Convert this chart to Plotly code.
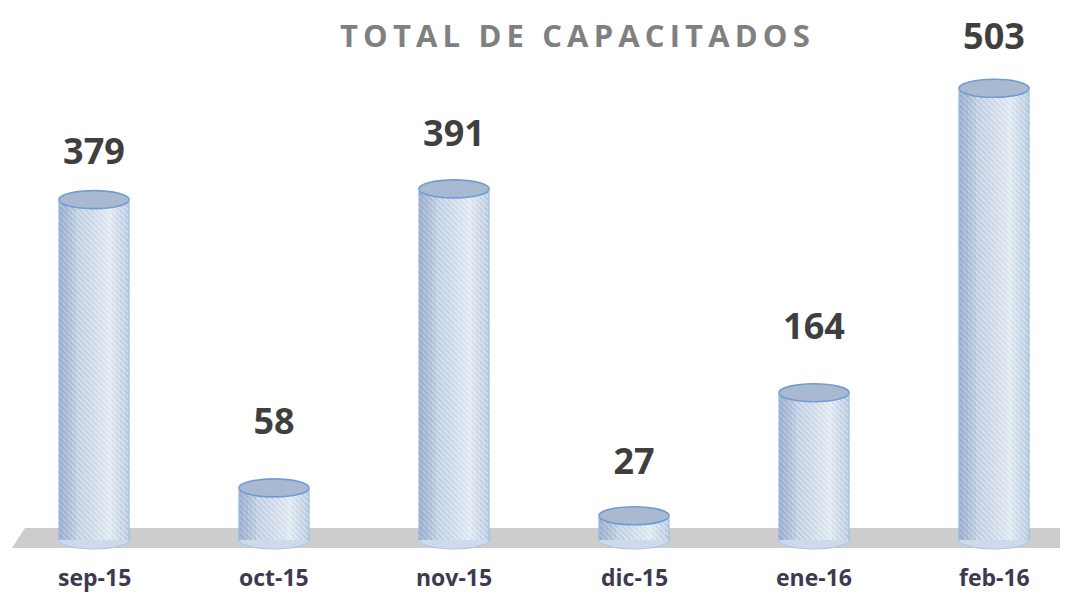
import plotly.graph_objects as go

# ---- data ----
categories = ["sep-15", "oct-15", "nov-15", "dic-15", "ene-16", "feb-16"]
values = [379, 58, 391, 27, 164, 503]
title_text = "TOTAL DE CAPACITADOS"

# ---- style / geometry (screen pixel targets; page body has an 8px margin) ----
PAGE_MARGIN = 8
W, H = 1068 - PAGE_MARGIN, 595 - PAGE_MARGIN
PX_PER_CAT = 180.0
FIRST_CENTER_PX = 94.0 - PAGE_MARGIN
BASE_PX = 540.0 - PAGE_MARGIN       # baseline pixel row
PX_PER_UNIT = 0.898
label_offset_px = [45, 63, 52, 51, 63, 48]   # label gap above cylinder top
CAT_LABEL_PX = 577                  # screen row of category labels
TITLE_PX = 35 - PAGE_MARGIN
TITLE_X_PX = 575 - PAGE_MARGIN
BAR_W = 0.39
CAP_H = 9.0 / PX_PER_UNIT    # half height of ellipse caps in data units
N_STRIPS = 16

x0 = -FIRST_CENTER_PX / PX_PER_CAT
x1 = x0 + W / PX_PER_CAT
y0 = -(H - BASE_PX) / PX_PER_UNIT
y1 = BASE_PX / PX_PER_UNIT


def px_x(p):
    return x0 + (p - PAGE_MARGIN) / PX_PER_CAT


def px_y(p):
    return (BASE_PX - (p - PAGE_MARGIN)) / PX_PER_UNIT


xs = list(range(len(categories)))

fig = go.Figure()

# main cylinder body with diagonal hatching
fig.add_trace(go.Bar(
    x=xs, y=values, width=BAR_W,
    marker=dict(
        color="#b6c8df",
        line=dict(width=0),
        pattern=dict(shape="\\", fgcolor="#8aa3c5", bgcolor="#c9d7e9",
                     size=4, solidity=0.4),
    ),
    hoverinfo="skip", showlegend=False,
))

# shading strips to suggest a rounded surface
sw = BAR_W / N_STRIPS
for k in range(N_STRIPS):
    t = (k + 0.5) / N_STRIPS
    hl = 0.72
    if t <= hl:
        a_white = 0.58 * (t / hl) ** 1.3
    else:
        a_white = 0.58 * (1 - (t - hl) / (1 - hl)) ** 0.8
    a_dark = 0.25 * max(0.0, 1 - t / 0.28)
    if a_white > 0.01:
        fig.add_trace(go.Bar(
            x=[x - BAR_W / 2 + (k + 0.5) * sw for x in xs], y=values, width=sw,
            marker=dict(color=f"rgba(255,255,255,{a_white:.3f})", line=dict(width=0)),
            hoverinfo="skip", showlegend=False,
        ))
    if a_dark > 0.01:
        fig.add_trace(go.Bar(
            x=[x - BAR_W / 2 + (k + 0.5) * sw for x in xs], y=values, width=sw,
            marker=dict(color=f"rgba(70,100,150,{a_dark:.3f})", line=dict(width=0)),
            hoverinfo="skip", showlegend=False,
        ))

# value labels
fig.add_trace(go.Scatter(
    x=xs,
    y=[v + off / PX_PER_UNIT for v, off in zip(values, label_offset_px)],
    mode="text",
    text=[str(v) for v in values],
    textposition="middle center",
    textfont=dict(family="Open Sans", size=36, color="#3f3f3f", weight="bold"),
    hoverinfo="skip", showlegend=False,
))

shapes = []
# gray floor
shapes.append(dict(
    type="path", xref="x", yref="y", layer="below",
    path=(f"M {px_x(25)} {px_y(528)} L {px_x(1063)} {px_y(528)} "
          f"L {px_x(1068)} {px_y(548)} L {px_x(12)} {px_y(548)} Z"),
    fillcolor="#cdcdcd", line=dict(width=0),
))
for x, v in zip(xs, values):
    # rounded bottom
    shapes.append(dict(
        type="circle", xref="x", yref="y", layer="below",
        x0=x - BAR_W / 2, x1=x + BAR_W / 2, y0=-CAP_H, y1=CAP_H,
        fillcolor="#cddaeb", line=dict(color="#a9c3e3", width=1),
    ))
    # top cap
    shapes.append(dict(
        type="circle", xref="x", yref="y", layer="above",
        x0=x - BAR_W / 2, x1=x + BAR_W / 2, y0=v - CAP_H, y1=v + CAP_H,
        fillcolor="#a8b9d1", line=dict(color="#6f9dd3", width=1.6),
    ))
    # side outlines
    for sx in (x - BAR_W / 2, x + BAR_W / 2):
        shapes.append(dict(
            type="line", xref="x", yref="y", layer="above",
            x0=sx, x1=sx, y0=0, y1=v,
            line=dict(color="#9bb9df", width=1),
        ))

annotations = [dict(
    text="\u2009".join(title_text), xref="paper", yref="paper",
    x=TITLE_X_PX / W, y=1 - TITLE_PX / H, xanchor="center", yanchor="middle",
    showarrow=False,
    font=dict(family="Open Sans", size=31, color="#808080", weight="bold"),
)]
for x, c in zip(xs, categories):
    annotations.append(dict(
        text=c, xref="x", yref="y", x=x, y=px_y(CAT_LABEL_PX),
        xanchor="center", yanchor="middle", showarrow=False,
        font=dict(family="Open Sans", size=23, color="#3d3a4f", weight="bold"),
    ))

fig.update_layout(
    width=W, height=H,
    margin=dict(l=0, r=0, t=0, b=0),
    paper_bgcolor="white", plot_bgcolor="white",
    barmode="overlay", bargap=0,
    shapes=shapes,
    annotations=annotations,
    xaxis=dict(range=[x0, x1], visible=False, fixedrange=True),
    yaxis=dict(range=[y0, y1], visible=False, fixedrange=True),
)

fig.write_html("out.html")
